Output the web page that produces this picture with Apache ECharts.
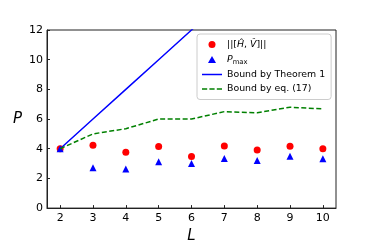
<!DOCTYPE html>
<html>
<head>
<meta charset="utf-8">
<script src="https://cdn.jsdelivr.net/npm/echarts@6/dist/echarts.min.js"></script>
<style>
html,body{margin:0;padding:0;background:#fff;}
#c{width:374px;height:249px;}
</style>
</head>
<body>
<div id="c"></div>
<script>
const L = [2, 3, 4, 5, 6, 7, 8, 9, 10];
const commNorm = [4.0, 4.24, 3.77, 4.15, 3.47, 4.19, 3.92, 4.17, 4.0];
const pMax = [4.0, 2.72, 2.63, 3.12, 3.0, 3.34, 3.21, 3.49, 3.32];
const boundThm1 = [4, 6, 8, 10, 12, 14, 16, 18, 20];
const boundEq17 = [4.0, 5.0, 5.35, 6.0, 6.0, 6.5, 6.42, 6.8, 6.68];
const xTicks = [2, 3, 4, 5, 6, 7, 8, 9, 10];

const pairs = (ys) => L.map((x, i) => [x, ys[i]]);
const FONT = 'DejaVu Sans';
const chart = echarts.init(document.getElementById('c'), null, {renderer: 'canvas'});
const legendLabels = {
  comm: '||[{it|Ĥ}, {it|V̂}]||',
  pmax: '{it|P}{sub|max}',
  thm1: 'Bound by Theorem 1',
  eq17: 'Bound by eq. (17)'
};
chart.setOption({
  animation: false,
  backgroundColor: '#fff',
  grid: {left: 47, top: 30, right: 38, bottom: 32, show: true, borderColor: '#222', borderWidth: 1, backgroundColor: 'transparent'},
  xAxis: {
    type: 'value', min: 1.6, max: 10.4,
    name: 'L', nameLocation: 'middle', nameGap: 19,
    nameTextStyle: {fontFamily: FONT, fontStyle: 'italic', fontSize: 15, color: '#000'},
    axisLine: {show: true, onZero: false, lineStyle: {color: '#222', width: 1}},
    axisTick: {show: true, inside: true, length: 3, customValues: xTicks, lineStyle: {color: '#222'}},
    axisLabel: {customValues: xTicks, fontFamily: FONT, fontSize: 11, color: '#000', margin: 5},
    splitLine: {show: false}
  },
  yAxis: {
    type: 'value', min: 0, max: 12, interval: 2,
    name: 'P', nameLocation: 'middle', nameGap: 25, nameRotate: 0,
    nameTextStyle: {fontFamily: FONT, fontStyle: 'italic', fontSize: 15, color: '#000'},
    axisLine: {show: true, onZero: false, lineStyle: {color: '#222', width: 1}},
    axisTick: {show: true, inside: true, length: 3, lineStyle: {color: '#222'}},
    axisLabel: {fontFamily: FONT, fontSize: 11, color: '#000', margin: 4},
    splitLine: {show: false}
  },
  legend: {
    orient: 'vertical', left: 197, top: 34,
    padding: [5, 6, 5, 5],
    itemWidth: 20, itemHeight: 7, itemGap: 3.5,
    symbolKeepAspect: true,
    borderColor: '#ccc', borderWidth: 1, borderRadius: 3, backgroundColor: 'rgba(255,255,255,0.8)',
    data: [
      {name: 'comm', icon: 'circle', itemStyle: {opacity: 1}},
      {name: 'pmax', icon: 'path://M5,0L10,8.66L0,8.66Z', itemStyle: {opacity: 1}},
      {name: 'thm1', icon: 'path://M0,0L20,0L20,1.5L0,1.5Z'},
      {name: 'eq17', icon: 'path://M0,0h5.2v1.5h-5.2z M7.4,0h5.2v1.5h-5.2z M14.8,0h5.2v1.5h-5.2z'}
    ],
    formatter: (n) => legendLabels[n],
    textStyle: {
      fontFamily: FONT, fontSize: 9.4, color: '#000', lineHeight: 11,
      rich: {
        it: {fontFamily: FONT, fontStyle: 'italic', fontSize: 9.4, lineHeight: 11},
        sub: {fontFamily: FONT, fontSize: 6.8, lineHeight: 11, padding: [5, 0, 0, 0]}
      }
    }
  },
  series: [
    {name: 'comm', type: 'scatter', data: pairs(commNorm), symbol: 'circle', symbolSize: 7,
      itemStyle: {color: '#ff0000', opacity: 1}, z: 2},
    {name: 'pmax', type: 'scatter', data: pairs(pMax), symbol: 'triangle', symbolSize: 7,
      itemStyle: {color: '#0000ff', opacity: 1}, z: 3},
    {name: 'thm1', type: 'line', data: pairs(boundThm1), showSymbol: false, symbol: 'none',
      lineStyle: {color: '#0000ff', width: 1.5}, itemStyle: {color: '#0000ff'}, z: 4, clip: true},
    {name: 'eq17', type: 'line', data: pairs(boundEq17), showSymbol: false, symbol: 'none',
      lineStyle: {color: '#008000', width: 1.5, type: [5, 2.5]}, itemStyle: {color: '#008000'}, z: 5, clip: true}
  ]
});
</script>
</body>
</html>
